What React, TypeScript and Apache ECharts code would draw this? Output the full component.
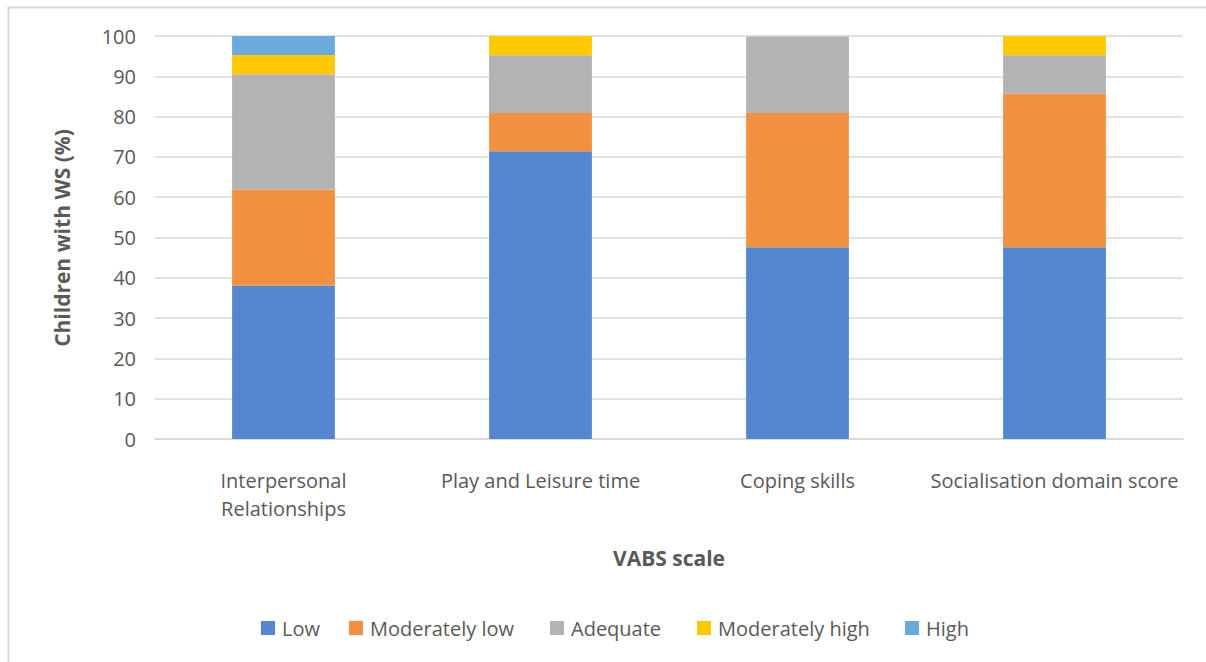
import React, { useEffect, useRef } from "react";
import * as echarts from "echarts";

const categories = [
  "Interpersonal Relationships",
  "Play and Leisure time",
  "Coping skills",
  "Socialisation domain score",
];
const low = [38.1, 71.4, 47.6, 47.6];
const moderatelyLow = [23.8, 9.5, 33.3, 38.1];
const adequate = [28.6, 14.3, 19.0, 9.5];
const moderatelyHigh = [4.8, 4.8, 0, 4.8];
const high = [4.8, 0, 0, 0];

const seriesNames = ["Low", "Moderately low", "Adequate", "Moderately high", "High"];
const seriesData = [low, moderatelyLow, adequate, moderatelyHigh, high];
const colors = ["#5587d1", "#f2913f", "#b3b3b3", "#ffc901", "#6aaadc"];
const legendLefts = [261, 349, 550, 697, 905];

const FONT = "Open Sans";
const TEXT = "#595959";

export default function App() {
  const ref = useRef<HTMLDivElement>(null);
  useEffect(() => {
    if (!ref.current) return;
    const chart = echarts.init(ref.current, undefined, { renderer: "svg" });
    chart.setOption({
      animation: false,
      backgroundColor: "#ffffff",
      textStyle: { fontFamily: FONT },
      graphic: [
        {
          type: "rect",
          shape: { x: 8.5, y: 7.5, width: 1300, height: 800 },
          style: { fill: "none", stroke: "#d9d9d9", lineWidth: 2 },
          silent: true,
        },
        {
          type: "text",
          x: 62,
          y: 238,
          rotation: Math.PI / 2,
          style: {
            text: "Children with WS (%)",
            font: `bold 21px "${FONT}"`,
            fill: TEXT,
            textAlign: "center",
            textVerticalAlign: "middle",
          },
        },
        {
          type: "text",
          x: 669,
          y: 558,
          style: {
            text: "VABS scale",
            font: `bold 21px "${FONT}"`,
            fill: TEXT,
            textAlign: "center",
            textVerticalAlign: "middle",
          },
        },
      ],
      legend: seriesNames.map((name, i) => ({
        data: [name],
        left: legendLefts[i],
        top: 618,
        padding: 0,
        itemWidth: 14,
        itemHeight: 14,
        icon: "rect",
        textStyle: { color: TEXT, fontSize: 20, fontFamily: FONT, padding: [0, 0, 0, 2] },
      })),
      grid: { left: 155, right: 23, top: 36, bottom: 223 },
      xAxis: {
        type: "category",
        data: categories,
        axisLine: { lineStyle: { color: "#d9d9d9", width: 1.5 } },
        axisTick: { show: false },
        axisLabel: {
          color: TEXT,
          fontSize: 20,
          fontFamily: FONT,
          margin: 27,
          lineHeight: 28,
          interval: 0,
          formatter: (v: string) =>
            v === "Interpersonal Relationships" ? "Interpersonal\nRelationships" : v,
        },
      },
      yAxis: {
        type: "value",
        min: 0,
        max: 100,
        interval: 10,
        axisLine: { show: false },
        axisTick: { show: false },
        splitLine: { lineStyle: { color: "#d9d9d9", width: 1.5 } },
        axisLabel: { color: TEXT, fontSize: 20, fontFamily: FONT, margin: 19 },
      },
      series: seriesNames.map((name, i) => ({
        name,
        type: "bar",
        stack: "total",
        barWidth: "40%",
        data: seriesData[i],
        itemStyle: { color: colors[i] },
      })),
    });
    return () => chart.dispose();
  }, []);
  return (
    <div
      ref={ref}
      style={{ position: "fixed", left: 0, top: 0, width: 1206, height: 662 }}
    />
  );
}
